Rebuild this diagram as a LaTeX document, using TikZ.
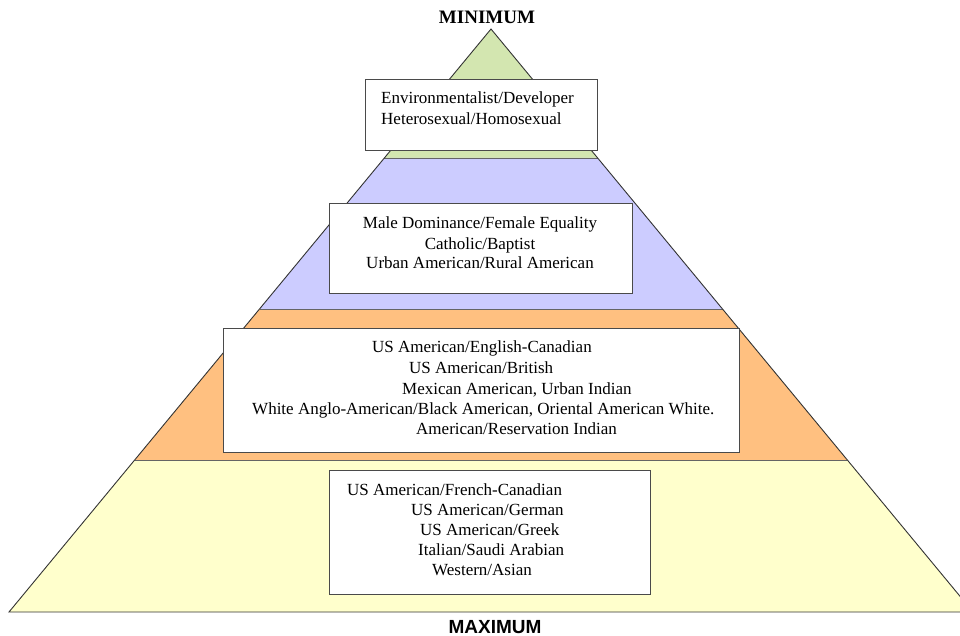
\documentclass[tikz,border=0pt]{standalone}
\usepackage{fontspec}
\setmainfont{Liberation Serif}
\newfontfamily\labsans{Liberation Sans}
\usetikzlibrary{positioning}
\definecolor{lgreen}{HTML}{D3E6B0}
\definecolor{lblue}{HTML}{CCCCFF}
\definecolor{lorange}{HTML}{FFC080}
\definecolor{lyellow}{HTML}{FFFFCC}
\definecolor{rim}{HTML}{4A4A4A}

\begin{document}
\begin{tikzpicture}[x=1pt,y=-1pt,
 lay/.style={draw=rim!85,line width=0.9pt},
 bx/.style={draw=rim,line width=1.1pt,fill=white,inner sep=0pt,anchor=north west},
 t/.style={anchor=base west,inner sep=0pt,font=\fontsize{17}{20}\selectfont},
 tc/.style={anchor=base,inner sep=0pt,font=\fontsize{17}{20}\selectfont}]
 \useasboundingbox (0,0) rectangle (960,636);
 \begin{scope}
 \clip (0,0) rectangle (960,636);
 % layers of the pyramid
 \coordinate (ap) at (491,29);
 \coordinate (l1) at (384.3,158); \coordinate (r1) at (597.7,158);
 \coordinate (l2) at (259.5,309); \coordinate (r2) at (722.5,309);
 \coordinate (l3) at (134.7,460); \coordinate (r3) at (847.3,460);
 \coordinate (l4) at (9,612); \coordinate (r4) at (973,612);
 \fill[lgreen] (ap)--(r1)--(l1)--cycle;
 \fill[lblue] (l1)--(r1)--(r2)--(l2)--cycle;
 \fill[lorange] (l2)--(r2)--(r3)--(l3)--cycle;
 \fill[lyellow] (l3)--(r3)--(r4)--(l4)--cycle;
 \draw[lay] (l1)--(r1); \draw[lay] (l2)--(r2); \draw[lay] (l3)--(r3);
 \draw[lay,draw=black!80] (l4)--(ap)--(r4)--cycle;
 \end{scope}
 % boxes
 \node[bx,minimum width=232,minimum height=71] (b1) at (365,79) {};
 \node[bx,minimum width=303,minimum height=90] (b2) at (329,203) {};
 \node[bx,minimum width=516,minimum height=124] (b3) at (223,328) {};
 \node[bx,minimum width=321,minimum height=124] (b4) at (329,470) {};
 % texts
 \node[t] (e1) at (381,104) {Environmentalist/Developer};
 \node[t] (e2) at (381,125) {Heterosexual/Homosexual};
 \node[tc] (m1) at (480,229) {Male Dominance/Female Equality};
 \node[tc] (m2) at (480,249) {Catholic/Baptist};
 \node[tc] (m3) at (480,269) {Urban American/Rural American};
 \node[t] (u1) at (372,352) {US American/English-Canadian};
 \node[t] (u2) at (409,373) {US American/British};
 \node[t] (u3) at (402,394) {Mexican American, Urban Indian};
 \node[t] (u4) at (252,414) {White Anglo-American/Black American, Oriental American White.};
 \node[t] (u5) at (416,434) {American/Reservation Indian};
 \node[t] (f1) at (347,495) {US American/French-Canadian};
 \node[t] (f2) at (411,515) {US American/German};
 \node[t] (f3) at (420,535) {US American/Greek};
 \node[t] (f4) at (418,555) {Italian/Saudi Arabian};
 \node[t] (f5) at (432,575) {Western/Asian};
 \node[anchor=base,inner sep=0pt,font=\fontsize{19}{22}\selectfont\bfseries] (mn) at (487,24) {MINIMUM};
 \node[anchor=base,inner sep=0pt,font=\labsans\fontsize{19}{22}\selectfont\bfseries] (mx) at (495,633) {MAXIMUM};
\end{tikzpicture}
\end{document}
